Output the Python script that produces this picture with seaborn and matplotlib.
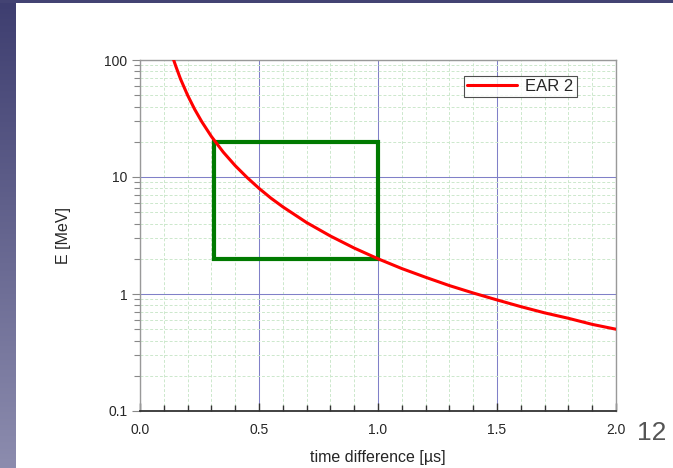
import numpy as np
import pandas as pd
import matplotlib
matplotlib.use("Agg")
import matplotlib.pyplot as plt
from matplotlib.patches import Rectangle
from matplotlib.ticker import FixedLocator, NullFormatter
import seaborn as sns

# ==========================================
# DATA
# ==========================================
time_us = [0.14, 0.15, 0.17, 0.2, 0.23, 0.26, 0.3, 0.35, 0.4, 0.45, 0.5, 0.55,
           0.6, 0.7, 0.8, 0.9, 1.0, 1.1, 1.2, 1.3, 1.4, 1.5, 1.6, 1.7, 1.8, 1.9, 2.0]
energy_mev = [102, 89, 69, 50, 37.8, 29.6, 22.2, 16.3, 12.5, 9.9, 8.0, 6.6,
              5.56, 4.08, 3.13, 2.47, 2.0, 1.65, 1.39, 1.18, 1.02, 0.89, 0.78,
              0.69, 0.62, 0.55, 0.5]
series_name = "EAR 2"
box_t = [0.31, 1.0]
box_E = [2, 20]

x_ticks = [0.0, 0.5, 1.0, 1.5, 2.0]
x_minor = [0.1, 0.2, 0.3, 0.4, 0.6, 0.7, 0.8, 0.9, 1.1, 1.2, 1.3, 1.4, 1.6, 1.7, 1.8, 1.9]
y_ticks = [0.1, 1, 10, 100]
y_ticklabels = ["0.1", "1", "10", "100"]
y_minor = [m * d for d in [0.1, 1, 10] for m in range(2, 10)]
page_no = "12"

# ==========================================
# STYLE
# ==========================================
sns.set_style("white")
plt.rcParams["font.family"] = ["Liberation Sans", "DejaVu Sans"]

df = pd.DataFrame({"t": time_us, "E": energy_mev})

fig = plt.figure(figsize=(6.73, 4.68), dpi=100)

# latar slide: bar atas dan bar kiri bergradasi
bg = fig.add_axes([0, 0, 1, 1], zorder=-5)
bg.set_axis_off()
bg.set_xlim(0, 673)
bg.set_ylim(468, 0)
grad = np.linspace(0, 1, 200).reshape(-1, 1)
cmap = matplotlib.colors.LinearSegmentedColormap.from_list("slide", ["#3e3e70", "#8c8cae"])
bg.imshow(grad, cmap=cmap, extent=[0, 16, 468, 0], aspect="auto")
bg.add_patch(Rectangle((0, 0), 673, 3, color="#434373", lw=0))
bg.text(652, 433, page_no, fontsize=19, color="#555555", ha="center", va="center")

ax = fig.add_axes([140 / 673, 57 / 468, 476 / 673, 351 / 468])
sns.lineplot(data=df, x="t", y="E", ax=ax, color="#ff0000", lw=2.2, label=series_name, zorder=4)

ax.set_yscale("log")
ax.set_xlim(0, 2)
ax.set_ylim(0.1, 100)

# grid
ax.xaxis.set_minor_locator(FixedLocator(x_minor))
ax.yaxis.set_minor_locator(FixedLocator(y_minor))
ax.yaxis.set_minor_formatter(NullFormatter())
ax.grid(which="minor", color="#cce8cc", ls=(0, (3, 2)), lw=0.7, zorder=0)
ax.set_xticks(x_ticks)
ax.set_xticklabels([f"{v:.1f}" for v in x_ticks])
ax.set_yticks(y_ticks)
ax.set_yticklabels(y_ticklabels)
ax.grid(which="major", color="#8080c8", ls="-", lw=0.75, zorder=1, snap=True)

ax.tick_params(axis="x", which="both", direction="in", bottom=True, top=False, labelsize=10, pad=9)
ax.tick_params(axis="x", which="major", length=6, width=1, color="#333333")
ax.tick_params(axis="x", which="minor", length=4.5, width=1, color="#333333")
ax.tick_params(axis="y", which="both", direction="out", left=True, right=False, labelsize=10, pad=3)
ax.tick_params(axis="y", which="major", length=6, width=0.8, color="#888888")
ax.tick_params(axis="y", which="minor", length=4, width=0.8, color="#888888")

for side in ["top", "right", "left"]:
    ax.spines[side].set_color("#999999")
    ax.spines[side].set_linewidth(1)
ax.spines["bottom"].set_color("#333333")
ax.spines["bottom"].set_linewidth(1.3)

# kotak hijau
ax.add_patch(Rectangle((box_t[0], box_E[0]), box_t[1] - box_t[0], box_E[1] - box_E[0],
                       fill=False, ec="#007a00", lw=3, zorder=3))

ax.set_xlabel("time difference [\u00b5s]", fontsize=11.5)
ax.set_ylabel("E [MeV]", fontsize=11.5)
ax.xaxis.set_label_coords(0.5, -0.11)
ax.yaxis.set_label_coords(-0.145, 0.5)

leg = ax.legend(loc="upper right", bbox_to_anchor=(0.918, 0.955), fontsize=12,
                frameon=True, fancybox=False, handlelength=3.0, handletextpad=0.5,
                borderpad=0.2, borderaxespad=0)
leg.get_frame().set_edgecolor("#222222")
leg.get_frame().set_linewidth(0.8)

fig.savefig("out.png", dpi=100)
